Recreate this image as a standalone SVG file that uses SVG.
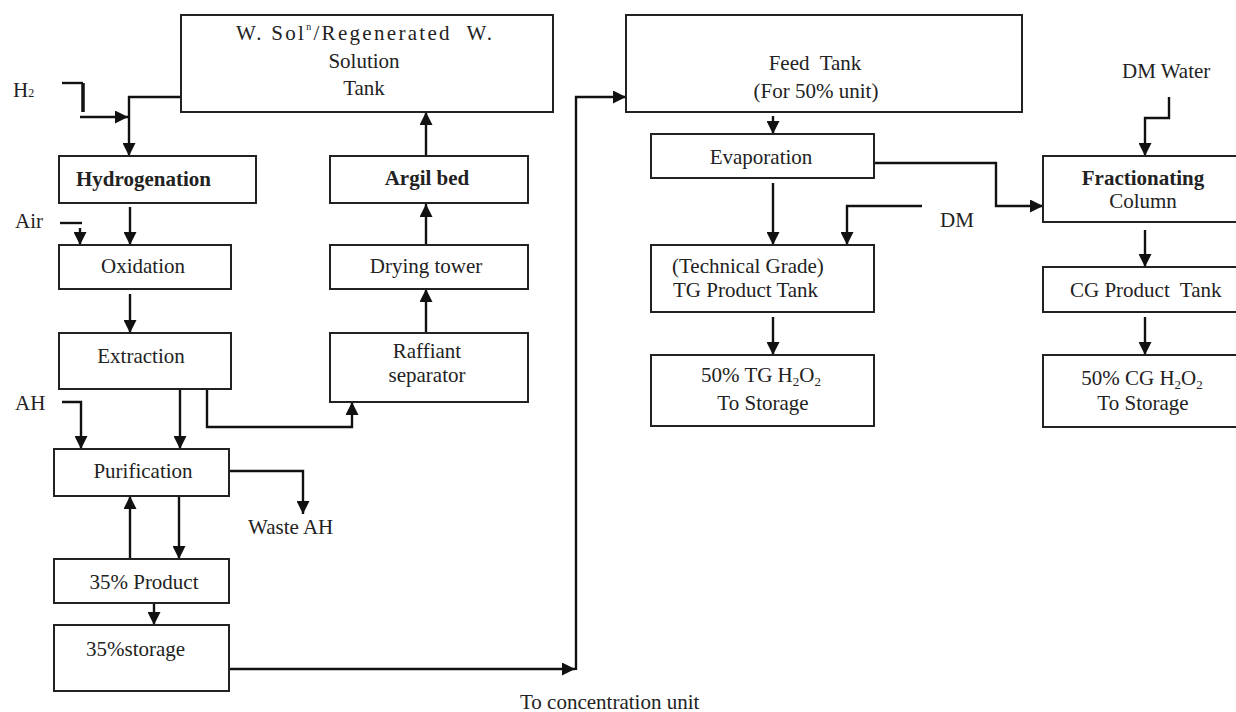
<svg xmlns="http://www.w3.org/2000/svg" width="1236" height="712" viewBox="0 0 1236 712">
<defs>
<marker id="ah" markerUnits="userSpaceOnUse" markerWidth="13" markerHeight="13" viewBox="0 0 12 12" refX="12" refY="6" orient="auto">
<path d="M0,0 L12,6 L0,12 z" fill="#111"/>
</marker>
<style>
.box{fill:#fff;stroke:#222;stroke-width:2}
.c{fill:none;stroke:#111;stroke-width:2.4}
.a{marker-end:url(#ah)}
text{font-family:"Liberation Serif","Times New Roman",serif;font-size:21px;fill:#222}
.m{text-anchor:middle}
.b{font-weight:bold}
</style>
</defs>
<rect width="1236" height="712" fill="#fff"/>

<g id="connectors">
<path class="c a" d="M181,97 H129 V156"/>
<path class="c" d="M62,83 H83"/>
<path d="M83,83 V112" stroke="#111" stroke-width="3.5" fill="none"/>
<path class="c a" d="M80,117 H128"/>
<path class="c a" d="M130,207 V245"/>
<path class="c" d="M60,223 H82"/>
<path class="c a" d="M80,228 V245"/>
<path class="c a" d="M130,294 V333"/>
<path class="c a" d="M180,382 V449"/>
<path class="c a" d="M62,402 H81 V449"/>
<path class="c a" d="M207,389 V427 H352 V402"/>
<path class="c a" d="M229,471 H303 V514"/>
<path class="c a" d="M179,494 V559"/>
<path class="c a" d="M130,559 V496"/>
<path class="c a" d="M154,603 V625"/>
<path class="c a" d="M229,669 H575"/>
<path class="c a" d="M576,670 V97 H626"/>
<path class="c a" d="M426,156 V112"/>
<path class="c a" d="M426,245 V204"/>
<path class="c a" d="M426,333 V289"/>
<path class="c a" d="M773,116 V134"/>
<path class="c a" d="M773,183 V245"/>
<path class="c a" d="M922,206 H847 V245"/>
<path class="c a" d="M773,317 V355"/>
<path class="c a" d="M873,163 H996 V206 H1043"/>
<path class="c a" d="M1169,97 V118 H1145 V156"/>
<path class="c a" d="M1145,230 V267"/>
<path class="c a" d="M1145,317 V355"/>
</g>

<g id="tank">
<rect class="box" x="181" y="15" width="372" height="97"/>
<text class="m" x="364" y="40" font-size="25" textLength="256" lengthAdjust="spacing" xml:space="preserve">W. Sol<tspan font-size="10" dy="-10">n</tspan><tspan dy="10">/Regenerated  W.</tspan></text>
<text class="m" x="364" y="68" font-size="24">Solution</text>
<text class="m" x="364" y="95" font-size="24">Tank</text>
</g>
<g id="h2-label"><text x="13" y="97" font-size="18">H<tspan font-size="12">2</tspan></text></g>
<g id="air-label"><text x="15" y="228">Air</text></g>
<g id="ah-label"><text x="15" y="410" font-size="22">AH</text></g>
<g id="hydrogenation">
<rect class="box" x="59" y="156" width="197" height="47"/>
<text class="b" x="76" y="186" font-size="18.8">Hydrogenation</text>
</g>
<g id="oxidation">
<rect class="box" x="59" y="245" width="172" height="44"/>
<text class="m" x="143" y="273" font-size="20">Oxidation</text>
</g>
<g id="extraction">
<rect class="box" x="59" y="333" width="172" height="56"/>
<text class="m" x="141" y="363" font-size="20">Extraction</text>
</g>
<g id="purification">
<rect class="box" x="54" y="449" width="175" height="47"/>
<text class="m" x="143" y="478" font-size="22.5">Purification</text>
</g>
<g id="waste-ah"><text x="248" y="534">Waste AH</text></g>
<g id="product35">
<rect class="box" x="54" y="559" width="175" height="44"/>
<text class="m" x="144" y="589" font-size="22">35% Product</text>
</g>
<g id="storage35">
<rect class="box" x="54" y="625" width="175" height="66"/>
<text x="86" y="656" font-size="22">35%storage</text>
</g>
<g id="argil">
<rect class="box" x="330" y="156" width="198" height="47"/>
<text class="m b" x="427" y="185">Argil bed</text>
</g>
<g id="drying">
<rect class="box" x="330" y="245" width="198" height="44"/>
<text class="m" x="426" y="273" font-size="22">Drying tower</text>
</g>
<g id="raffiant">
<rect class="box" x="330" y="333" width="198" height="69"/>
<text class="m" x="427" y="358" font-size="22">Raffiant</text>
<text class="m" x="427" y="382" font-size="20.5">separator</text>
</g>
<g id="concentration-label"><text x="520" y="709" font-size="23">To concentration unit</text></g>
<g id="feed-tank">
<rect class="box" x="626" y="15" width="396" height="97"/>
<text class="m" x="815" y="70" font-size="19" xml:space="preserve">Feed  Tank</text>
<text class="m" x="816" y="98" font-size="21">(For 50% unit)</text>
</g>
<g id="evaporation">
<rect class="box" x="651" y="134" width="223" height="44"/>
<text class="m" x="761" y="164" font-size="19.8">Evaporation</text>
</g>
<g id="dm-label"><text x="940" y="227" font-size="22">DM</text></g>
<g id="tg-tank">
<rect class="box" x="651" y="245" width="223" height="67"/>
<text x="672" y="273" font-size="21.2">(Technical Grade)</text>
<text x="673" y="297" font-size="21.2">TG Product Tank</text>
</g>
<g id="tg50">
<rect class="box" x="651" y="355" width="223" height="71"/>
<text class="m" x="761" y="382" font-size="20">50% TG H<tspan font-size="13" dy="4">2</tspan><tspan dy="-4">O</tspan><tspan font-size="13" dy="4">2</tspan></text>
<text class="m" x="763" y="410" font-size="20">To Storage</text>
</g>
<g id="dm-water-label"><text x="1122" y="78">DM Water</text></g>
<g id="fractionating">
<rect class="box" x="1043" y="156" width="200" height="66"/>
<text class="m b" x="1143" y="185" font-size="20">Fractionating</text>
<text class="m" x="1143" y="208" font-size="21.5">Column</text>
</g>
<g id="cg-tank">
<rect class="box" x="1043" y="267" width="200" height="45"/>
<text x="1070" y="297" font-size="20" xml:space="preserve">CG Product  Tank</text>
</g>
<g id="cg50">
<rect class="box" x="1043" y="355" width="200" height="72"/>
<text class="m" x="1142" y="385" font-size="20">50% CG H<tspan font-size="13" dy="4">2</tspan><tspan dy="-4">O</tspan><tspan font-size="13" dy="4">2</tspan></text>
<text class="m" x="1143" y="410" font-size="21.5">To Storage</text>
</g>
</svg>
